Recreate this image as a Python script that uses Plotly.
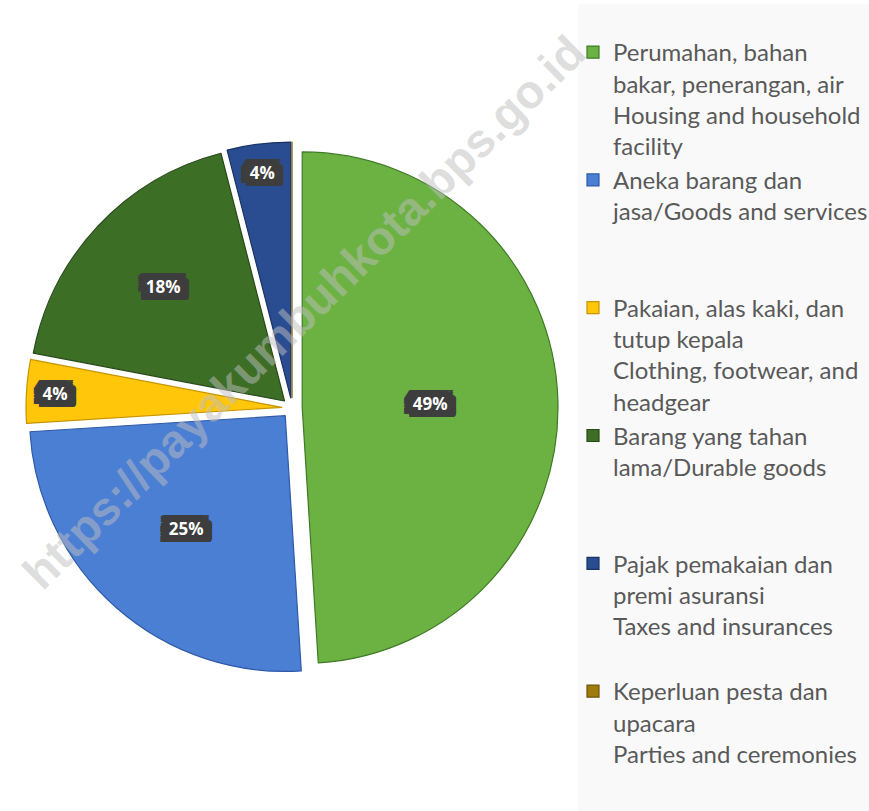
import plotly.graph_objects as go

# ---- data ----
categories = [
    "Perumahan, bahan<br>bakar, penerangan, air<br>Housing and household<br>facility",
    "Aneka barang dan<br>jasa/Goods and services<br>\u00a0<br>\u00a0",
    "Pakaian, alas kaki, dan<br>tutup kepala<br>Clothing, footwear, and<br>headgear",
    "Barang yang tahan<br>lama/Durable goods<br>\u00a0<br>\u00a0",
    "Pajak pemakaian dan<br>premi asuransi<br>Taxes and insurances<br>\u00a0",
    "Keperluan pesta dan<br>upacara<br>Parties and ceremonies",
]
shares = [49, 25, 4, 18, 4, 0]
slice_colors = ["#6cb243", "#4a7fd4", "#ffc60a", "#3d6e26", "#2a4d92", "#9e7b0a"]
edge_colors = ["#3f7a25", "#2f5aa8", "#c79500", "#28491a", "#1a3263", "#6e5508"]
watermark = "https://payakumbuhkota.bps.go.id"

W, H = 869, 811
pull = 0.04

label_shadow = ", ".join(
    f"{dx}px {dy}px 0 #3d3d3d"
    for dx in (-9, -7, -5, -3, 0, 3, 5, 7, 9)
    for dy in (-7, -5, -3, 0, 3, 5, 7)
)

fig = go.Figure()
fig.add_trace(go.Pie(
    labels=categories,
    values=shares,
    sort=False,
    direction="clockwise",
    rotation=0,
    pull=[pull] * len(shares),
    marker=dict(colors=slice_colors, line=dict(color=edge_colors, width=1.2)),
    texttemplate=["%{percent:.0%}"] * 5 + [""],
    textposition="inside",
    insidetextorientation="horizontal",
    insidetextfont=dict(family="Open Sans", size=17, color="white", weight="bold",
                        shadow=label_shadow),
    hoverinfo="skip",
    domain=dict(x=[26 / W, 558 / W], y=[(403 - 266) / H, (403 + 266) / H]),
    showlegend=True,
))

fig.add_shape(type="rect", xref="paper", yref="paper",
              x0=578 / W, x1=1, y0=0, y1=1 - 4 / H,
              fillcolor="#f9f9f9", line=dict(width=0), layer="below")

fig.add_annotation(text=watermark, xref="paper", yref="paper",
                   x=303 / W, y=1 - 312 / H, showarrow=False, textangle=-44.5,
                   font=dict(family="Liberation Sans", size=47, color="rgba(190,190,190,0.5)",
                             weight="bold"))

fig.update_layout(
    width=W, height=H,
    margin=dict(l=0, r=0, t=0, b=0, autoexpand=False),
    paper_bgcolor="white",
    plot_bgcolor="white",
    legend=dict(x=573 / W, xanchor="left", y=1 - 30 / H, yanchor="top",
                valign="top", bgcolor="rgba(0,0,0,0)",
                font=dict(family="Lato", size=24, color="#595959"),
                tracegroupgap=0),
)

fig.write_html("out.html", config={"displayModeBar": False},
               post_script="document.body.style.margin='0';")
